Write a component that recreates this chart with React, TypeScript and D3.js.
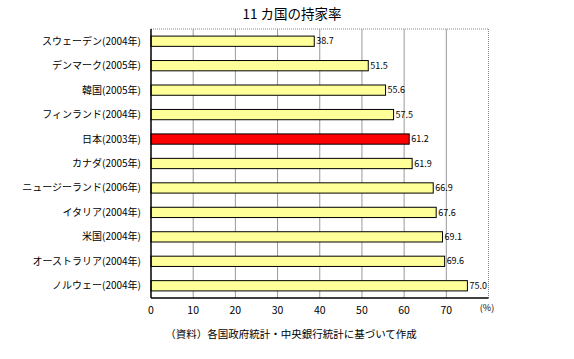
import React from "react";
import * as d3 from "d3";

const categories = [
  "スウェーデン(2004年)",
  "デンマーク(2005年)",
  "韓国(2005年)",
  "フィンランド(2004年)",
  "日本(2003年)",
  "カナダ(2005年)",
  "ニュージーランド(2006年)",
  "イタリア(2004年)",
  "米国(2004年)",
  "オーストラリア(2004年)",
  "ノルウェー(2004年)",
];
const values = [38.7, 51.5, 55.6, 57.5, 61.2, 61.9, 66.9, 67.6, 69.1, 69.6, 75.0];
const highlight = "日本(2003年)";
const ticks = [0, 10, 20, 30, 40, 50, 60, 70];
const title = "11 カ国の持家率";
const unit = "(%)";
const source = "（資料）各国政府統計・中央銀行統計に基づいて作成";

const W = 574, H = 359;
const L = 151, R = 488.5, T = 29, B = 298;
const font = "'Noto Sans CJK JP', 'DejaVu Sans', sans-serif";

export default function App() {
  const x = d3.scaleLinear().domain([0, 80]).range([L, R]);
  const y = d3.scaleBand<string>().domain(categories).range([T, B]).paddingInner(0.58).paddingOuter(0.29);
  return (
    <svg width={W} height={H} style={{ position: "absolute", left: 0, top: 0, background: "#fff" }} fontFamily={font}>
      <text x={292} y={19} textAnchor="middle" fontSize={13.5}>{title}</text>
      {ticks.slice(1).map((t) => (
        <line key={t} x1={x(t)} x2={x(t)} y1={T} y2={B} stroke="#999" strokeWidth={1} />
      ))}
      <line x1={L} x2={R} y1={T} y2={T} stroke="#888" strokeDasharray="1,1" />
      <line x1={R} x2={R} y1={T} y2={B} stroke="#888" strokeDasharray="1,1" />
      {categories.map((c, i) => (
        <g key={c}>
          <rect
            x={x(0)}
            y={y(c)!}
            width={x(values[i]) - x(0)}
            height={y.bandwidth()}
            fill={c === highlight ? "#FF0000" : "#FFFF99"}
            stroke="#000"
            strokeWidth={1}
          />
          <text x={x(values[i]) + 2} y={y(c)! + y.bandwidth() / 2} dy="0.35em" fontSize={9}>
            {values[i].toFixed(1)}
          </text>
          <text x={141} y={y(c)! + y.bandwidth() / 2} dy="0.35em" fontSize={10} textAnchor="end">
            {c}
          </text>
        </g>
      ))}
      <line x1={L} x2={L} y1={T} y2={B} stroke="#000" strokeWidth={1.5} />
      <line x1={L} x2={R} y1={B} y2={B} stroke="#000" strokeWidth={1.5} />
      {ticks.map((t) => (
        <text key={t} x={x(t)} y={314} textAnchor="middle" fontSize={10.5}>{t}</text>
      ))}
      <text x={487} y={311} textAnchor="middle" fontSize={9}>{unit}</text>
      <text x={291} y={338} textAnchor="middle" fontSize={10.5}>{source}</text>
    </svg>
  );
}
